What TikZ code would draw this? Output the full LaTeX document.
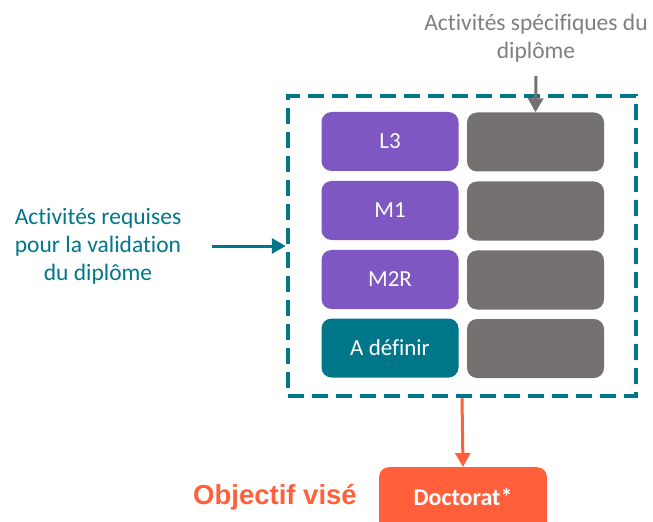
\documentclass[tikz,border=0pt]{standalone}
\usepackage{fontspec}
\setmainfont{Carlito}[Ligatures={NoCommon}]
\newfontfamily\arialbf{Liberation Sans}[BoldFont={Liberation Sans Bold}]
\usetikzlibrary{arrows.meta}
\definecolor{cpurple}{RGB}{126,87,194}
\definecolor{cgray}{RGB}{117,113,112}
\definecolor{cteal}{RGB}{0,118,138}
\definecolor{corange}{RGB}{255,95,58}
\definecolor{ctext}{RGB}{127,127,127}
\tikzset{
  cell/.style={rounded corners=10bp, minimum width=137bp, minimum height=59bp, inner sep=0pt, text=white, font=\fontsize{23bp}{27bp}\selectfont},
  purplecell/.style={cell, fill=cpurple},
  graycell/.style={cell, fill=cgray},
  tealcell/.style={cell, fill=cteal},
  frame/.style={draw=cteal, line width=4.5bp, dash pattern=on 16bp off 8bp, minimum width=348bp, minimum height=300bp, inner sep=0pt},
  conn/.style={line width=3bp, -{Triangle[length=14bp,width=15bp]}},
  lbl/.style={align=center, font=\fontsize{23.5bp}{28bp}\selectfont},
}
\begin{document}
\begin{tikzpicture}[x=1bp,y=-1bp]
\useasboundingbox (0,0) rectangle (653,522);
\clip (0,0) rectangle (653,522);
% frame
\node[frame] (fr) at (462,246) {};
% cells
\node[purplecell] (l3) at (390,141.5) {L3};
\node[purplecell] (m1) at (390,210.5) {M1};
\node[purplecell] (m2) at (390,279.5) {M2R};
\node[tealcell] (ad) at (390,348) {A définir};
\node[graycell] (g1) at (535.5,142) {};
\node[graycell] (g2) at (535.5,211) {};
\node[graycell] (g3) at (535.5,280) {};
\node[graycell] (g4) at (535.5,348.5) {};
% labels
\node[lbl, text=ctext] (spec) at (536,38) {Activités spécifiques du\\diplôme};
\node[lbl, text=cteal] (req) at (98,246) {Activités requises\\pour la validation\\du diplôme};
\coordinate (specend) at (536,76);
\coordinate (reqend) at (212,246);
\draw[conn, draw=cgray, fill=cgray] (specend) -- (g1.north);
\draw[conn, draw=cteal] (reqend) -- (fr.west);
% goal
\node[fill=corange, rounded corners=10bp, minimum width=168bp, minimum height=70bp, inner sep=0pt, anchor=north] (doc) at (463,467) {};
\node[text=white, font=\fontsize{24bp}{28bp}\selectfont\bfseries] (doct) at (463,497) {Doctorat*};
\node[text=corange, font=\arialbf\fontsize{27.5bp}{32bp}\selectfont\bfseries] (obj) at (275,497) {Objectif visé};
\draw[conn, draw=corange] (fr.south) -- (doc.north);
\end{tikzpicture}
\end{document}
